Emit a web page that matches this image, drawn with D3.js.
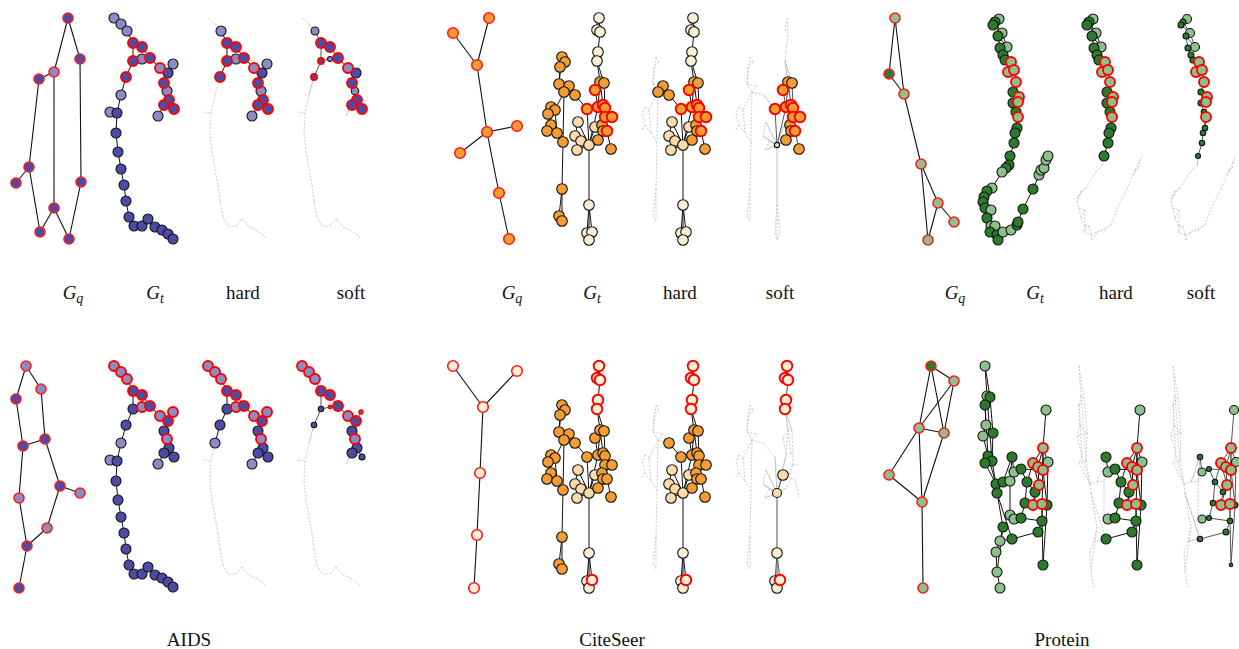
<!DOCTYPE html>
<html>
<head>
  <meta charset="utf-8">
  <script src="https://d3js.org/d3.v7.min.js"></script>
  <style>
    body { margin: 0; background: #fff; }
    text { font-family: "Liberation Serif", "DejaVu Serif", serif; fill: #111; }
  </style>
</head>
<body>
<script>
// ---- data: node = [x, y, colour class] ----

// AIDS
var aidsQTop = [[68,18,0],[80,59,0],[54,72,1],[39,79,0],[29,167,0],[16,183,0],[81,182,0],[54,208,0],[40,232,0],[69,239,0]];
var aidsQTopEdges = [[0,2],[0,1],[1,6],[2,3],[2,7],[3,4],[4,5],[4,8],[8,7],[7,9],[9,6]];
var aidsQBot = [[26,366,1],[41,389,1],[16,399,0],[45,439,0],[23,446,0],[60,486,0],[80,493,1],[19,498,1],[47,528,1],[27,546,0],[19,588,0]];
var aidsQBotEdges = [[0,1],[0,2],[2,4],[1,3],[4,3],[4,7],[3,5],[5,6],[5,8],[8,9],[7,9],[9,10]];
var aidsT = [[114,18,1],[121,24,1],[127,31,1],[133,43,0],[142,47,0],[133,61,0],[142,59,1],[150,58,0],[160,68,1],[173,64,1],
  [168,73,0],[164,83,0],[167,91,1],[169,100,0],[164,105,0],[174,109,0],[158,116,1],[126,77,0],[121,95,1],[110,112,1],
  [117,113,0],[116,133,0],[118,152,0],[121,169,0],[124,185,0],[126,201,0],[129,217,0],[134,226,0],[142,226,0],[148,219,0],
  [155,227,0],[162,230,0],[168,234,0],[173,239,0]];
var aidsTEdges = [[0,1],[1,2],[2,3],[3,4],[3,5],[5,6],[6,7],[4,7],[7,8],[8,10],[9,10],[10,11],[11,12],[12,13],[13,14],[13,15],
  [14,16],[5,17],[17,18],[18,20],[19,20],[20,21],[21,22],[22,23],[23,24],[24,25],[25,26],[26,27],[27,28],[28,29],[29,30],
  [30,31],[31,32],[32,33]];
var aidsMatchTop = [3,4,5,7,8,11,13,14,15,17];
var aidsHardTop = [2,3,4,5,6,7,8,9,10,11,12,13,14,15,16,17];
var aidsSoftTop = [[2,0.8],[3,1],[4,1],[5,0.6],[6,0.5],[7,1],[8,1],[10,1],[11,1],[12,0.75],[13,1],[14,1],[15,1],[17,0.6]];
var aidsMatchBot = [0,1,2,3,4,6,7,8,9,10,12];
var aidsHardBot = [0,1,2,3,4,5,6,7,8,9,10,11,12,13,14,15,16,17,18];
var aidsSoftBot = [[0,1],[1,1],[2,1],[3,1],[4,1],[5,0.55],[6,0.3],[7,1],[8,1],[9,0.35],[10,1],[11,1],[12,1],[13,1],[14,1],[15,0.6],[17,0.55]];

// CiteSeer
var citeQTop = [[489,18,0],[453,33,0],[477,65,0],[487,132,0],[517,126,0],[460,153,0],[499,193,0],[509,239,0]];
var citeQTopEdges = [[0,2],[1,2],[2,3],[3,4],[3,5],[3,6],[6,7]];
var citeQBot = [[453,366,2],[517,371,2],[483,407,2],[480,473,2],[477,535,2],[474,588,2]];
var citeQBotEdges = [[0,2],[1,2],[2,3],[3,4],[4,5]];
var citeT = [[562,57,0],[565,62,0],[560,67,0],[559,84,0],[569,86,0],[564,92,0],[575,95,0],[551,107,0],[555,110,0],[548,114,0],
  [551,125,0],[547,131,0],[557,133,0],[563,142,0],[562,189,0],[559,216,0],[562,221,0],[587,109,0],[595,90,0],[599,18,2],
  [597,30,2],[600,32,2],[598,52,2],[597,61,2],[600,82,0],[604,83,0],[578,122,1],[575,136,1],[581,141,1],[577,150,1],
  [589,145,1],[598,107,0],[603,105,0],[605,108,0],[605,117,0],[612,117,0],[595,127,1],[602,125,0],[603,131,0],[607,131,0],
  [598,140,0],[611,149,0],[589,205,2],[587,233,2],[592,232,2],[589,240,2]];
var citeTEdges = [[0,1],[1,2],[0,3],[2,3],[3,4],[3,5],[4,5],[5,6],[6,17],[5,8],[7,8],[7,9],[9,10],[10,11],[10,12],[8,12],
  [5,13],[12,13],[13,14],[14,15],[14,16],[15,16],[19,20],[19,21],[20,21],[21,22],[22,23],[23,24],[23,25],[24,25],[24,18],
  [18,31],[30,17],[30,36],[30,26],[30,27],[30,28],[30,29],[30,42],[30,40],[30,31],[24,31],[24,32],[25,33],[31,32],[32,33],
  [33,34],[34,35],[34,37],[37,38],[38,39],[38,40],[39,41],[36,37],[26,27],[27,28],[28,29],[42,43],[42,44],[42,45],[43,45],[44,45]];
var citeMatchTop = [17,18,31,32,33,34,35,39];
var citeHardTop = [4,5,6,17,18,19,20,21,22,23,24,25,26,27,28,29,30,31,32,33,34,35,36,37,38,39,40,41,42,43,44,45];
var citeSoftTop = [[17,1],[18,1],[24,1],[25,1],[30,0.5],[31,1],[32,1],[33,1],[34,1],[35,1],[37,1],[38,1],[39,1],[40,1],[41,1]];
var citeMatchBot = [19,20,21,22,23,44];
var citeHardBot = [6,17,18,19,20,21,22,23,24,25,26,27,28,29,30,31,32,33,34,35,36,37,38,39,40,41,42,43,44,45];
var citeSoftBot = [[19,1],[20,1],[21,1],[22,1],[23,1],[36,1],[30,0.85],[42,1],[43,1],[44,1],[45,1]];

// Protein
var protQTop = [[895,18,1],[889,74,0],[904,94,1],[921,164,1],[938,203,1],[954,222,1],[928,240,1]];
var protQTopEdges = [[0,1],[0,2],[1,2],[2,3],[3,4],[3,6],[4,6],[4,5]];
var protQBot = [[931,366,0],[954,381,1],[919,428,1],[944,433,1],[889,475,1],[922,502,1],[923,588,1]];
var protQBotEdges = [[0,1],[0,2],[0,3],[1,2],[1,3],[2,3],[2,4],[2,5],[3,5],[4,5],[5,6]];
var protTTop = [[999,19,1],[995,22,0],[993,25,0],[1002,33,1],[998,36,0],[1007,47,1],[1000,48,0],[1003,55,0],[1005,60,0],[1011,62,1],
  [1008,72,1],[1014,70,1],[1016,82,1],[1013,92,0],[1019,97,1],[1018,102,1],[1013,103,0],[1016,112,0],[1018,117,1],[1017,128,0],
  [1015,133,0],[1014,143,0],[1010,156,0],[1009,165,0],[1006,168,0],[1002,172,1],[992,188,1],[987,191,0],[984,197,0],[983,202,0],
  [985,208,0],[991,210,1],[987,218,0],[991,226,1],[995,226,1],[990,232,0],[997,235,0],[998,240,0],[1003,232,1],[1011,230,1],
  [1017,225,0],[1018,222,0],[1023,209,0],[1033,189,0],[1039,175,1],[1041,170,1],[1044,168,1],[1046,160,1],[1048,156,1]];
var protTTopEdges = [[0,1],[1,2],[2,3],[3,4],[4,5],[5,6],[6,7],[7,8],[8,9],[9,10],[10,11],[11,12],[12,13],[13,14],[14,15],
  [15,16],[16,17],[17,18],[18,19],[19,20],[20,21],[21,22],[22,23],[23,24],[24,25],[25,26],[26,27],[27,28],[28,29],[29,30],
  [30,31],[31,32],[32,33],[33,34],[34,35],[35,36],[36,37],[37,38],[38,39],[39,40],[40,41],[41,42],[42,43],[43,44],[44,45],
  [45,46],[46,47],[47,48],[0,2],[1,3],[3,5],[4,6],[6,8],[9,11],[10,12],[13,15],[14,16],[17,19],[26,28],[27,29],[30,32],
  [31,33],[33,35],[34,36],[36,38],[38,40],[44,46],[45,47]];
var protMatchTop = [9,10,11,12,14,15,18];
var protHardTop = [0,1,2,3,4,5,6,7,8,9,10,11,12,13,14,15,16,17,18,19,20,21,22];
var protSoftTop = [[0,0.9],[1,0.6],[2,0.6],[3,0.9],[4,0.6],[5,0.9],[6,0.6],[7,0.6],[8,0.6],[9,1],[10,1],[11,1],[12,1],
  [13,0.6],[14,1],[15,1],[16,0.6],[17,0.55],[18,1],[19,0.55],[20,0.55],[21,0.55],[22,0.5]];
var protTBot = [[985,366,1],[987,396,1],[990,397,0],[985,405,0],[986,425,1],[993,433,0],[983,436,1],[988,456,0],[992,461,0],[985,463,0],
  [996,484,0],[1003,482,0],[1010,481,1],[997,493,0],[1012,457,0],[1014,472,1],[1021,469,0],[1027,482,0],[1025,503,0],[1010,515,1],
  [1014,519,1],[1021,518,0],[1003,527,0],[1012,539,0],[1000,541,1],[996,552,1],[997,572,1],[1000,588,1],[1046,410,1],[1043,448,1],
  [1048,462,1],[1033,463,1],[1038,467,1],[1043,470,1],[1039,485,1],[1035,492,0],[1033,505,1],[1042,504,1],[1047,505,0],[1042,521,0],
  [1038,532,0],[1043,565,0]];
var protTBotEdges = [[0,1],[0,2],[1,3],[2,3],[3,4],[2,5],[4,5],[4,6],[5,6],[6,7],[5,8],[7,9],[8,9],[8,10],[9,10],[10,13],
  [10,11],[11,12],[13,22],[13,23],[22,24],[23,24],[24,25],[25,26],[26,27],[22,26],[1,8],[3,7],[7,10],[12,14],[14,15],
  [15,16],[16,17],[11,14],[12,19],[19,20],[20,21],[21,18],[18,17],[17,31],[17,35],[18,36],[16,33],[28,29],[29,30],[29,31],
  [29,32],[29,33],[31,32],[32,33],[33,30],[31,34],[32,34],[34,35],[34,36],[35,36],[36,37],[37,38],[33,38],[37,39],[39,40],
  [39,41],[38,41],[29,39],[30,38],[23,40],[21,39]];
var protMatchBot = [29,31,32,33,34,36,37];
var protHardBot = [14,15,16,17,18,20,21,23,28,29,30,31,32,33,34,35,36,37,38,39,40,41];
var protSoftBot = [[14,0.55],[15,0.8],[16,0.5],[17,0.55],[18,0.55],[20,0.8],[21,0.5],[23,0.55],[28,0.9],[29,1],[30,0.9],
  [31,1],[32,1],[33,1],[34,1],[35,0.55],[36,1],[37,1],[38,0.6],[39,0.55],[40,0.6],[41,0.35]];

var panelNames = ["q", "t", "hard", "soft"];
var datasetNames = ["AIDS", "CiteSeer", "Protein"];

// ---- drawing ----
var W = 1239, H = 649;
var svg = d3.select("body").append("svg").attr("width", W).attr("height", H);

var datasets = [
  { name: datasetNames[0], pal: ["#4c4ca6", "#8b8bc6"], r: 5,
    rows: [
      { q: aidsQTop, qe: aidsQTopEdges, t: aidsT, te: aidsTEdges, dy: 0, m: aidsMatchTop, hard: aidsHardTop, soft: aidsSoftTop },
      { q: aidsQBot, qe: aidsQBotEdges, t: aidsT, te: aidsTEdges, dy: 348, m: aidsMatchBot, hard: aidsHardBot, soft: aidsSoftBot }
    ],
    labelX: [73, 155, 243, 351], titleX: 189 },
  { name: datasetNames[1], pal: ["#f49d32", "#fcdcab", "#fdefd6"], r: 5.3,
    rows: [
      { q: citeQTop, qe: citeQTopEdges, t: citeT, te: citeTEdges, dy: 0, m: citeMatchTop, hard: citeHardTop, soft: citeSoftTop },
      { q: citeQBot, qe: citeQBotEdges, t: citeT, te: citeTEdges, dy: 348, m: citeMatchBot, hard: citeHardBot, soft: citeSoftBot }
    ],
    labelX: [512, 592, 680, 780], titleX: 612 },
  { name: datasetNames[2], pal: ["#2c7a2c", "#8ec08e"], r: 5,
    rows: [
      { q: protQTop, qe: protQTopEdges, t: protTTop, te: protTTopEdges, dy: 0, m: protMatchTop, hard: protHardTop, soft: protSoftTop },
      { q: protQBot, qe: protQBotEdges, t: protTBot, te: protTBotEdges, dy: 0, m: protMatchBot, hard: protHardBot, soft: protSoftBot }
    ],
    labelX: [955, 1035, 1116, 1201], titleX: 1062 }
];

var colStep = 94;

function scalesFor(nodes, dx, dy) {
  var ex = d3.extent(nodes, function (d) { return d[0]; });
  var ey = d3.extent(nodes, function (d) { return d[1]; });
  return {
    x: d3.scaleLinear().domain(ex).range([ex[0] + dx, ex[1] + dx]),
    y: d3.scaleLinear().domain(ey).range([ey[0] + dy, ey[1] + dy])
  };
}

function drawQuery(g, nodes, edges, ds) {
  var s = scalesFor(nodes, 0, 0);
  g.selectAll("line.qe").data(edges).enter().append("line")
    .attr("x1", function (e) { return s.x(nodes[e[0]][0]); })
    .attr("y1", function (e) { return s.y(nodes[e[0]][1]); })
    .attr("x2", function (e) { return s.x(nodes[e[1]][0]); })
    .attr("y2", function (e) { return s.y(nodes[e[1]][1]); })
    .attr("stroke", "#111").attr("stroke-width", 1.1);
  g.selectAll("circle.qn").data(nodes).enter().append("circle")
    .attr("cx", function (d) { return s.x(d[0]); })
    .attr("cy", function (d) { return s.y(d[1]); })
    .attr("r", ds.r)
    .attr("fill", function (d) { return ds.pal[d[2]]; })
    .attr("stroke", "#ff1a1a").attr("stroke-width", 1.6);
}

// mode: "t" full target, "hard" subgraph, "soft" weighted subgraph
function drawTarget(g, row, ds, mode, dx) {
  var nodes = row.t, edges = row.te;
  var s = scalesFor(nodes, dx, row.dy);
  var match = new Set(row.m);
  var weight = new Map();
  if (mode === "t") nodes.forEach(function (d, i) { weight.set(i, 1); });
  if (mode === "hard") row.hard.forEach(function (i) { weight.set(i, 1); });
  if (mode === "soft") row.soft.forEach(function (p) { weight.set(p[0], p[1]); });

  var eData = edges.map(function (e) {
    var n = (weight.has(e[0]) ? 1 : 0) + (weight.has(e[1]) ? 1 : 0);
    return { a: nodes[e[0]], b: nodes[e[1]], n: n };
  });
  eData.sort(function (p, q) { return p.n - q.n; });

  g.selectAll("line.te").data(eData).enter().append("line")
    .attr("x1", function (e) { return s.x(e.a[0]); })
    .attr("y1", function (e) { return s.y(e.a[1]); })
    .attr("x2", function (e) { return s.x(e.b[0]); })
    .attr("y2", function (e) { return s.y(e.b[1]); })
    .attr("stroke", function (e) {
      if (e.n === 2) return mode === "soft" ? "#555" : "#111";
      if (mode === "soft" && e.n === 1) return "#b5b5b5";
      return "#c2c2c2";
    })
    .attr("stroke-width", function (e) { return e.n === 2 ? 1 : 0.85; })
    .attr("stroke-dasharray", function (e) {
      if (e.n === 2) return null;
      if (mode === "soft" && e.n === 1) return null;
      return "2,1.5";
    });

  var shown = [];
  nodes.forEach(function (d, i) {
    if (weight.has(i)) shown.push({ d: d, i: i, w: weight.get(i), m: match.has(i) });
  });
  shown.sort(function (p, q) { return (p.m ? 1 : 0) - (q.m ? 1 : 0); });

  g.selectAll("circle.tn").data(shown).enter().append("circle")
    .attr("cx", function (n) { return s.x(n.d[0]); })
    .attr("cy", function (n) { return s.y(n.d[1]); })
    .attr("r", function (n) { return ds.r * n.w; })
    .attr("fill", function (n) { return ds.pal[n.d[2]]; })
    .attr("stroke", function (n) { return n.m ? "#ff0000" : "#111"; })
    .attr("stroke-width", function (n) { return n.m ? 1.9 : 1.1; });
}

datasets.forEach(function (ds) {
  var g = svg.append("g").attr("class", ds.name);
  ds.rows.forEach(function (row) {
    drawQuery(g.append("g"), row.q, row.qe, ds);
    drawTarget(g.append("g"), row, ds, "t", 0);
    drawTarget(g.append("g"), row, ds, "hard", colStep);
    drawTarget(g.append("g"), row, ds, "soft", 2 * colStep);
  });

  // panel captions under the top row
  panelNames.forEach(function (p, k) {
    var t = g.append("text").attr("x", ds.labelX[k]).attr("y", 299)
      .attr("text-anchor", "middle").style("font-size", "19px");
    if (p === "q" || p === "t") {
      t.append("tspan").style("font-style", "italic").text("G");
      t.append("tspan").style("font-style", "italic").style("font-size", "14px")
        .attr("dy", 4).text(p);
    } else {
      t.text(p);
    }
  });

  g.append("text").attr("x", ds.titleX).attr("y", 646)
    .attr("text-anchor", "middle").style("font-size", "19px").text(ds.name);
});
</script>
</body>
</html>
